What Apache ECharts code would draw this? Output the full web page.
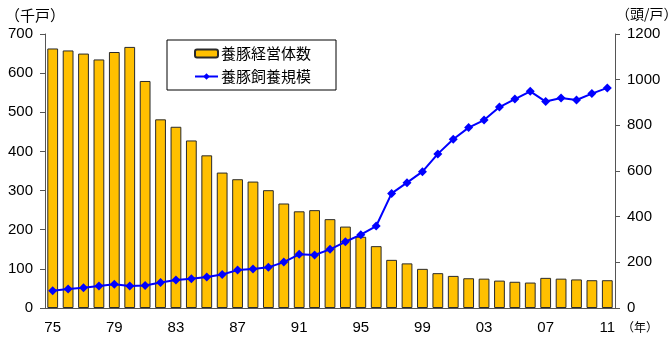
<!DOCTYPE html>
<html>
<head>
<meta charset="utf-8">
<script src="https://cdn.jsdelivr.net/npm/echarts@6/dist/echarts.min.js"></script>
<style>
  html, body { margin: 0; padding: 0; background: #fff; }
  #chart { width: 669px; height: 340px; }
</style>
</head>
<body>
<div id="chart"></div>
<script>
// Years 1975–2011 (two-digit labels)
const years = ['75','76','77','78','79','80','81','82','83','84','85','86','87','88','89','90',
  '91','92','93','94','95','96','97','98','99','00','01','02','03','04','05','06','07','08','09','10','11'];

// 養豚経営体数 (千戸)
const farms = [663, 658, 650, 635, 654, 667, 580, 482, 463, 428, 390, 346, 329, 323, 301, 267,
  247, 250, 227, 208, 182, 158, 123, 114, 100, 89, 82, 76, 75, 70, 67, 65, 77, 75, 73, 71, 71];

// 養豚飼養規模 (頭/戸)
const scale = [76, 83, 89, 96, 104, 96, 99, 112, 123, 128, 136, 147, 166, 171, 178, 201,
  235, 232, 257, 290, 321, 359, 502, 549, 597, 675, 739, 790, 823, 880, 915, 949, 904, 920, 911, 939, 964];

const leftTicks = { min: 0, max: 700, interval: 100 };
const rightTicks = { min: 0, max: 1200, interval: 200 };

const FONT = '"Noto Sans CJK JP", "Liberation Sans", sans-serif';
const NUMFONT = '"Liberation Sans", Arial, sans-serif';

const chart = echarts.init(document.getElementById('chart'), null, { renderer: 'canvas' });

chart.setOption({
  animation: false,
  backgroundColor: '#ffffff',
  grid: { left: 45, right: 54, top: 34, bottom: 32, containLabel: false },
  legend: {
    left: 167,
    top: 40,
    orient: 'vertical',
    borderColor: '#000',
    borderWidth: 1,
    padding: [6, 25, 6, 27],
    itemGap: 8,
    itemWidth: 23,
    itemHeight: 8,
    textStyle: { fontFamily: FONT, fontSize: 15, color: '#000', padding: [0, 0, 0, -2] },
    data: ['養豚経営体数', '養豚飼養規模']
  },
  xAxis: {
    type: 'category',
    data: years,
    boundaryGap: true,
    axisLine: { lineStyle: { color: '#555', width: 1 } },
    axisTick: { show: false },
    axisLabel: { interval: 3, margin: 12, fontFamily: NUMFONT, fontSize: 15, color: '#000' }
  },
  yAxis: [
    {
      type: 'value',
      min: leftTicks.min, max: leftTicks.max, interval: leftTicks.interval,
      axisLine: { show: true, lineStyle: { color: '#555', width: 1 } },
      axisTick: { show: true, length: 5, lineStyle: { color: '#555' } },
      splitLine: { show: false },
      axisLabel: { margin: 12, fontFamily: NUMFONT, fontSize: 15, color: '#000', formatter: v => String(v) }
    },
    {
      type: 'value',
      min: rightTicks.min, max: rightTicks.max, interval: rightTicks.interval,
      position: 'right',
      axisLine: { show: true, lineStyle: { color: '#555', width: 1 } },
      axisTick: { show: true, length: 5, lineStyle: { color: '#555' } },
      splitLine: { show: false },
      axisLabel: { margin: 12, fontFamily: NUMFONT, fontSize: 15, color: '#000', formatter: v => String(v) }
    }
  ],
  graphic: [
    { type: 'text', left: 5, top: 8, style: { text: '（千戸）', font: '15px ' + FONT, fill: '#000' } },
    { type: 'text', left: 616, top: 7, style: { text: '（頭/戸）', font: '14px ' + FONT, fill: '#000' } },
    { type: 'text', left: 622, top: 321, style: { text: '（年）', font: '12px ' + FONT, fill: '#000' } }
  ],
  series: [
    {
      name: '養豚経営体数',
      type: 'bar',
      yAxisIndex: 0,
      data: farms,
      barCategoryGap: '30%',
      itemStyle: { color: '#FFC000', borderColor: '#2a2a2a', borderWidth: 1 },
      z: 2
    },
    {
      name: '養豚飼養規模',
      type: 'line',
      yAxisIndex: 1,
      data: scale,
      symbol: 'diamond',
      symbolSize: 9,
      lineStyle: { color: '#0000FF', width: 2 },
      itemStyle: { color: '#0000FF' },
      z: 5
    }
  ]
});
</script>
</body>
</html>
